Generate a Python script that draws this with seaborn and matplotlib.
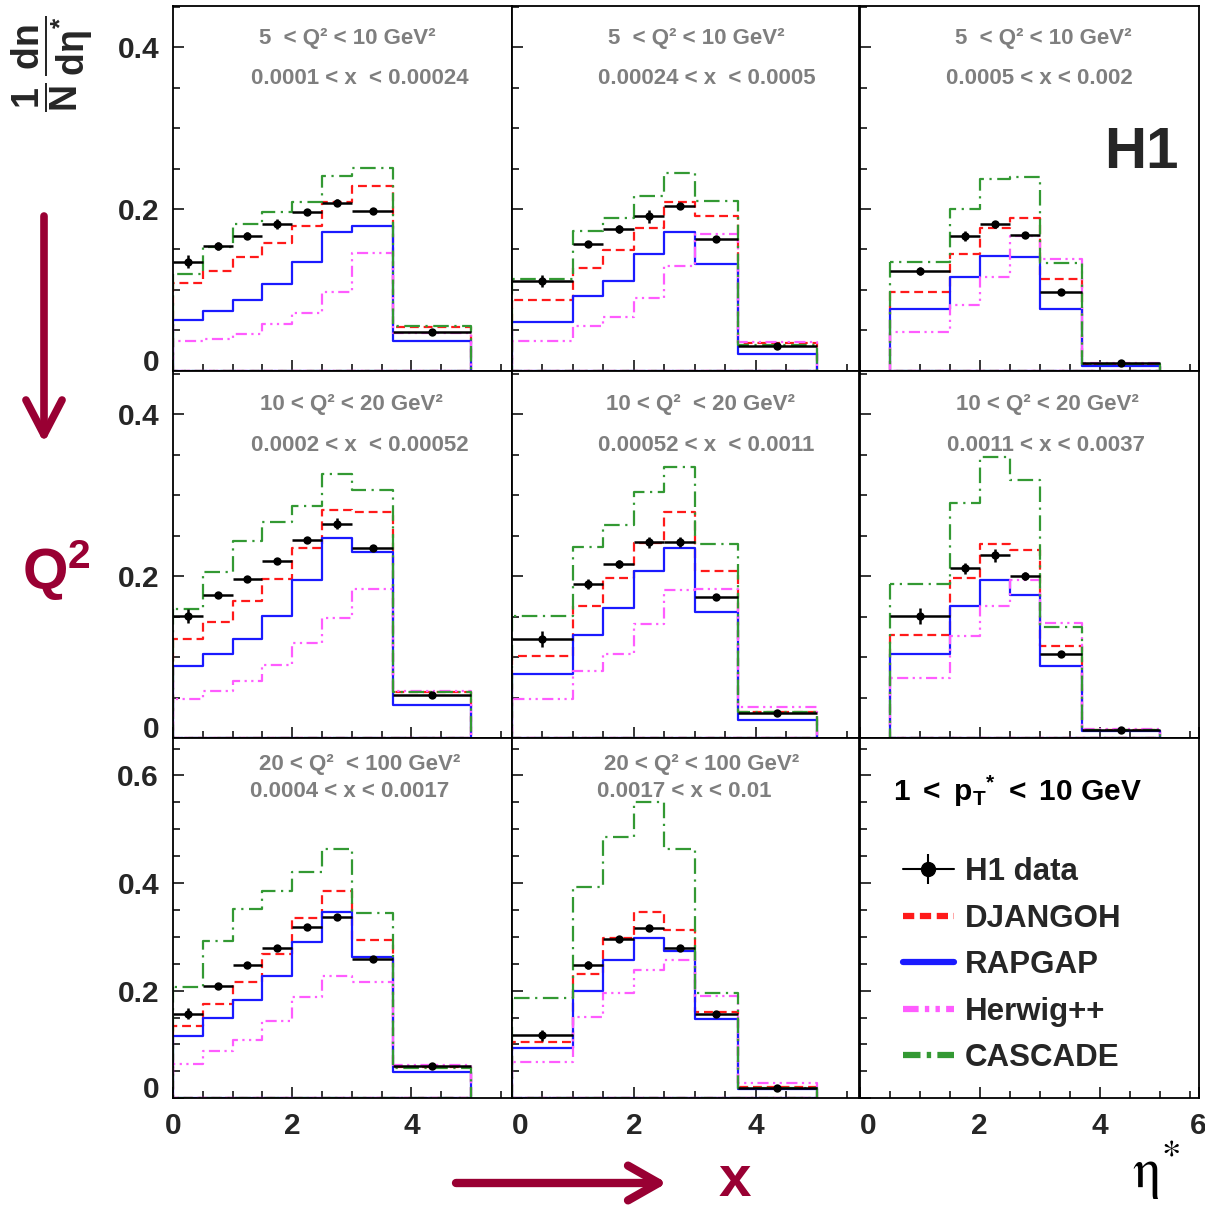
import numpy as np
import pandas as pd
import matplotlib
matplotlib.use("Agg")
import matplotlib.pyplot as plt
import seaborn as sns
from matplotlib.lines import Line2D
from matplotlib.patches import FancyArrowPatch
from matplotlib.ticker import MultipleLocator

# ---------------- data ----------------
edges_a = [0, 0.5, 1.0, 1.5, 2.0, 2.5, 3.0, 3.7, 5.0]
edges_b = [0, 1.0, 1.5, 2.0, 2.5, 3.0, 3.7, 5.0]
edges_c = [0.5, 1.5, 2.0, 2.5, 3.0, 3.7, 5.0]
panel_edges = [edges_a, edges_b, edges_c, edges_a, edges_b, edges_c, edges_a, edges_b]

q2_labels = ["5  < Q² < 10 GeV²", "5  < Q² < 10 GeV²", "5  < Q² < 10 GeV²",
             "10 < Q² < 20 GeV²", "10 < Q²  < 20 GeV²", "10 < Q² < 20 GeV²",
             "20 < Q²  < 100 GeV²", "20 < Q² < 100 GeV²"]
x_labels = ["0.0001 < x  < 0.00024", "0.00024 < x  < 0.0005", "0.0005 < x < 0.002",
            "0.0002 < x  < 0.00052", "0.00052 < x  < 0.0011", "0.0011 < x < 0.0037",
            "0.0004 < x < 0.0017", "0.0017 < x < 0.01"]

h1_data = [
    [0.135, 0.154, 0.167, 0.181, 0.196, 0.208, 0.198, 0.048],
    [0.111, 0.157, 0.175, 0.191, 0.204, 0.163, 0.030],
    [0.123, 0.167, 0.181, 0.168, 0.097, 0.009],
    [0.151, 0.177, 0.197, 0.219, 0.245, 0.265, 0.235, 0.054],
    [0.123, 0.191, 0.215, 0.242, 0.242, 0.174, 0.031],
    [0.151, 0.210, 0.226, 0.200, 0.104, 0.010],
    [0.157, 0.209, 0.247, 0.280, 0.318, 0.337, 0.259, 0.060],
    [0.117, 0.248, 0.296, 0.316, 0.280, 0.157, 0.020],
]
h1_err = [
    [0.008, 0.005, 0.004, 0.006, 0.003, 0.004, 0.003, 0.002],
    [0.007, 0.004, 0.005, 0.008, 0.004, 0.004, 0.002],
    [0.005, 0.006, 0.004, 0.003, 0.002, 0.001],
    [0.009, 0.004, 0.004, 0.003, 0.003, 0.007, 0.003, 0.002],
    [0.010, 0.006, 0.005, 0.007, 0.006, 0.003, 0.002],
    [0.010, 0.007, 0.008, 0.005, 0.003, 0.001],
    [0.010, 0.005, 0.005, 0.005, 0.005, 0.006, 0.003, 0.002],
    [0.010, 0.008, 0.006, 0.004, 0.004, 0.003, 0.002],
]
djangoh = [
    [0.109, 0.123, 0.141, 0.158, 0.179, 0.209, 0.228, 0.054],
    [0.087, 0.127, 0.149, 0.176, 0.209, 0.191, 0.034],
    [0.097, 0.144, 0.177, 0.189, 0.113, 0.008],
    [0.123, 0.144, 0.170, 0.197, 0.235, 0.282, 0.279, 0.057],
    [0.102, 0.163, 0.198, 0.241, 0.280, 0.207, 0.032],
    [0.128, 0.198, 0.240, 0.233, 0.114, 0.010],
    [0.134, 0.175, 0.216, 0.269, 0.335, 0.386, 0.294, 0.059],
    [0.104, 0.231, 0.297, 0.347, 0.312, 0.160, 0.021],
]
rapgap = [
    [0.063, 0.074, 0.088, 0.107, 0.134, 0.171, 0.179, 0.037],
    [0.060, 0.092, 0.111, 0.144, 0.172, 0.132, 0.021],
    [0.076, 0.116, 0.142, 0.140, 0.076, 0.006],
    [0.089, 0.104, 0.123, 0.151, 0.195, 0.247, 0.230, 0.041],
    [0.079, 0.128, 0.161, 0.207, 0.235, 0.156, 0.023],
    [0.104, 0.163, 0.196, 0.177, 0.089, 0.009],
    [0.116, 0.150, 0.182, 0.228, 0.291, 0.347, 0.262, 0.048],
    [0.094, 0.199, 0.257, 0.298, 0.273, 0.147, 0.017],
]
herwig = [
    [0.037, 0.039, 0.046, 0.058, 0.071, 0.097, 0.146, 0.047],
    [0.037, 0.055, 0.067, 0.090, 0.130, 0.169, 0.035],
    [0.048, 0.081, 0.116, 0.166, 0.138, 0.010],
    [0.048, 0.058, 0.071, 0.091, 0.118, 0.149, 0.184, 0.058],
    [0.048, 0.083, 0.104, 0.141, 0.183, 0.184, 0.039],
    [0.074, 0.126, 0.163, 0.195, 0.142, 0.012],
    [0.063, 0.087, 0.109, 0.144, 0.189, 0.228, 0.217, 0.062],
    [0.067, 0.151, 0.196, 0.238, 0.257, 0.191, 0.028],
]
cascade = [
    [0.120, 0.153, 0.181, 0.196, 0.209, 0.241, 0.251, 0.055],
    [0.113, 0.173, 0.189, 0.216, 0.245, 0.210, 0.032],
    [0.135, 0.200, 0.237, 0.240, 0.133, 0.008],
    [0.160, 0.205, 0.244, 0.267, 0.287, 0.326, 0.307, 0.057],
    [0.151, 0.236, 0.263, 0.304, 0.335, 0.240, 0.033],
    [0.191, 0.291, 0.347, 0.319, 0.137, 0.010],
    [0.207, 0.292, 0.351, 0.386, 0.421, 0.464, 0.345, 0.056],
    [0.186, 0.393, 0.485, 0.551, 0.463, 0.196, 0.019],
]

model_names = ["DJANGOH", "RAPGAP", "Herwig++", "CASCADE"]
model_values = [djangoh, rapgap, herwig, cascade]

# ---------------- style ----------------
sns.set_theme(style="ticks")
plt.rcParams['font.family'] = ['Liberation Sans', 'DejaVu Sans']
plt.rcParams['mathtext.fontset'] = 'custom'
plt.rcParams['mathtext.rm'] = 'Liberation Sans'
plt.rcParams['mathtext.bf'] = 'Liberation Sans:bold'
plt.rcParams['mathtext.it'] = 'Liberation Sans:italic'

model_colors = ["#ff1a1a", "#1a1aff", "#ff5cff", "#339933"]
model_ls = [(0, (4, 2.2)), "-", (0, (5, 2, 1, 2, 1, 2)), (0, (7, 2.5, 1, 2.5))]
legend_ls = [(0, (1.8, 0.9)), "-", (0, (2.5, 1, 0.7, 1, 0.7, 1)), (0, (2.8, 1, 0.7, 1))]
DARKRED = "#990033"
GRAY = "#7f7f7f"

W, H = 1205, 1206
fig = plt.figure(figsize=(W / 100, H / 100), dpi=100)
fig.patch.set_facecolor("white")


def fx(p):
    return p / W


def fy(p):
    return 1 - p / H


col_px = [(173, 512), (512, 859.5), (859.5, 1198.5)]
row_px = [(6, 370.7), (370.7, 738.3), (738.3, 1098.3)]
xlims = [(0, 5.69), (0, 5.70), (0, 5.65)]
ymaxs = [0.451, 0.454, 0.669]
lab_pos = [
    [(0.513, 0.912), (0.551, 0.80)], [(0.529, 0.912), (0.56, 0.80)], [(0.543, 0.912), (0.531, 0.80)],
    [(0.527, 0.907), (0.55, 0.796)], [(0.543, 0.907), (0.558, 0.796)], [(0.553, 0.907), (0.549, 0.796)],
    [(0.55, 0.928), (0.522, 0.851)], [(0.547, 0.928), (0.497, 0.851)],
]

axes = {}
for r in range(3):
    for c in range(3):
        l, rr = col_px[c]
        t, b = row_px[r]
        ax = fig.add_axes([fx(l), fy(b), (rr - l) / W, (b - t) / H])
        ax.set_facecolor("white")
        axes[(r, c)] = ax

panel_keys = [(0, 0), (0, 1), (0, 2), (1, 0), (1, 1), (1, 2), (2, 0), (2, 1)]
for i, key in enumerate(panel_keys):
    ax = axes[key]
    e = np.array(panel_edges[i], dtype=float)
    centers = (e[:-1] + e[1:]) / 2
    half = (e[1:] - e[:-1]) / 2
    for m in range(4):
        df = pd.DataFrame({"eta": centers, "w": model_values[m][i]})
        sns.histplot(data=df, x="eta", weights="w", bins=list(panel_edges[i]), element="step",
                     fill=True, color=model_colors[m], facecolor="none",
                     edgecolor=model_colors[m], linestyle=model_ls[m], linewidth=1.6,
                     ax=ax, zorder=2 + m * 0.1)
    ax.errorbar(centers, h1_data[i], xerr=half, yerr=h1_err[i], fmt="none",
                ecolor="black", elinewidth=1.8, capsize=0, zorder=5)
    sns.scatterplot(x=centers, y=h1_data[i], color="black", s=36, linewidth=0,
                    ax=ax, zorder=6)
    ax.set_xlabel("")
    ax.set_ylabel("")
    (x1, y1), (x2, y2) = lab_pos[i]
    ax.text(x1, y1, q2_labels[i], transform=ax.transAxes, ha="center", va="center",
            fontsize=16, fontweight="bold", color=GRAY)
    ax.text(x2, y2, x_labels[i], transform=ax.transAxes, ha="center", va="center",
            fontsize=16, fontweight="bold", color=GRAY)

for (r, c), ax in axes.items():
    ax.set_xlim(*xlims[c])
    ax.set_ylim(0, ymaxs[r])
    ax.xaxis.set_minor_locator(MultipleLocator(0.5))
    ax.yaxis.set_minor_locator(MultipleLocator(0.05))
    if c == 2:
        ax.set_xticks([0, 2, 4, xlims[c][1]], ["0", "2", "4", "6"])
    else:
        ax.set_xticks([0, 2, 4], ["0", "2", "4"])
    yt = [0, 0.2, 0.4] if r < 2 else [0, 0.2, 0.4, 0.6]
    ax.set_yticks(yt, ["0" if v == 0 else f"{v:.1f}" for v in yt])
    ax.tick_params(which="both", direction="in", top=False, right=False,
                   width=1.1, color="black", labelsize=21.5, pad=10,
                   labelleft=(c == 0), labelbottom=(r == 2))
    ax.tick_params(which="major", length=8)
    ax.tick_params(which="minor", length=5)
    for lab in ax.get_xticklabels() + ax.get_yticklabels():
        lab.set_fontweight("bold")
    for sp in ax.spines.values():
        sp.set_visible(True)
        sp.set_linewidth(1.3)
        sp.set_color("black")
    if c == 0:
        for lab in ax.get_yticklabels():
            if lab.get_text() == "0":
                lab.set_va("baseline")
    if c > 0 and r == 2:
        for lab in ax.get_xticklabels():
            if lab.get_text() == "0":
                lab.set_ha("left")

# legend in the empty panel
lax = axes[(2, 2)]
handles = [(Line2D([], [], color="black", lw=1.5, marker="o", markersize=10),
            Line2D([], [], color="black", marker="|", markersize=21, mew=1.5, linestyle="none"))]
for m in range(4):
    handles.append(Line2D([], [], color=model_colors[m], lw=4.5, linestyle=legend_ls[m]))
labels = ["H1 data"] + model_names
leg = lax.legend(handles, labels, loc="upper left", bbox_to_anchor=(fx(903), fy(857)),
                 bbox_transform=fig.transFigure, frameon=False, borderpad=0, borderaxespad=0,
                 handlelength=1.63, handletextpad=0.36, labelspacing=0.53,
                 prop={"family": "Liberation Sans", "weight": "bold", "size": 22.5})

# annotations
fig.text(fx(893), fy(801), r"$\mathbf{1\ <\ p_{T}{}^{*}\ <\ 10\ GeV}$", fontsize=21.5,
         ha="left", va="baseline", color="black")
fig.text(fx(1104), fy(153), "H1", fontsize=42, fontweight="bold", ha="left", va="center")
fig.text(fx(52), fy(64), r"$\mathbf{\dfrac{1}{N}\,\dfrac{dn}{d\eta^{*}}}$", rotation=90,
         fontsize=27, ha="center", va="center")
fig.text(fx(1132), fy(1188), r"$\mathrm{\eta}^{*}$", fontsize=40, math_fontfamily="stix",
         ha="left", va="baseline", color="black")
fig.text(fx(22), fy(590), r"$\mathbf{Q^{2}}$", fontsize=42, color=DARKRED,
         ha="left", va="baseline")
fig.text(fx(735), fy(1196), r"$\mathbf{x}$", fontsize=42, color=DARKRED,
         ha="center", va="baseline")

arr1 = FancyArrowPatch((fx(44), fy(216)), (fx(44), fy(443)), transform=fig.transFigure,
                       arrowstyle="->,head_length=25,head_width=13", lw=5.5, color=DARKRED,
                       shrinkA=0, shrinkB=0, mutation_scale=1)
arr2 = FancyArrowPatch((fx(456), fy(1183)), (fx(667), fy(1183)), transform=fig.transFigure,
                       arrowstyle="->,head_length=22,head_width=12.5", lw=6, color=DARKRED,
                       shrinkA=0, shrinkB=0, mutation_scale=1)
fig.patches.extend([arr1, arr2])

fig.savefig("out.png", dpi=100, facecolor="white")
